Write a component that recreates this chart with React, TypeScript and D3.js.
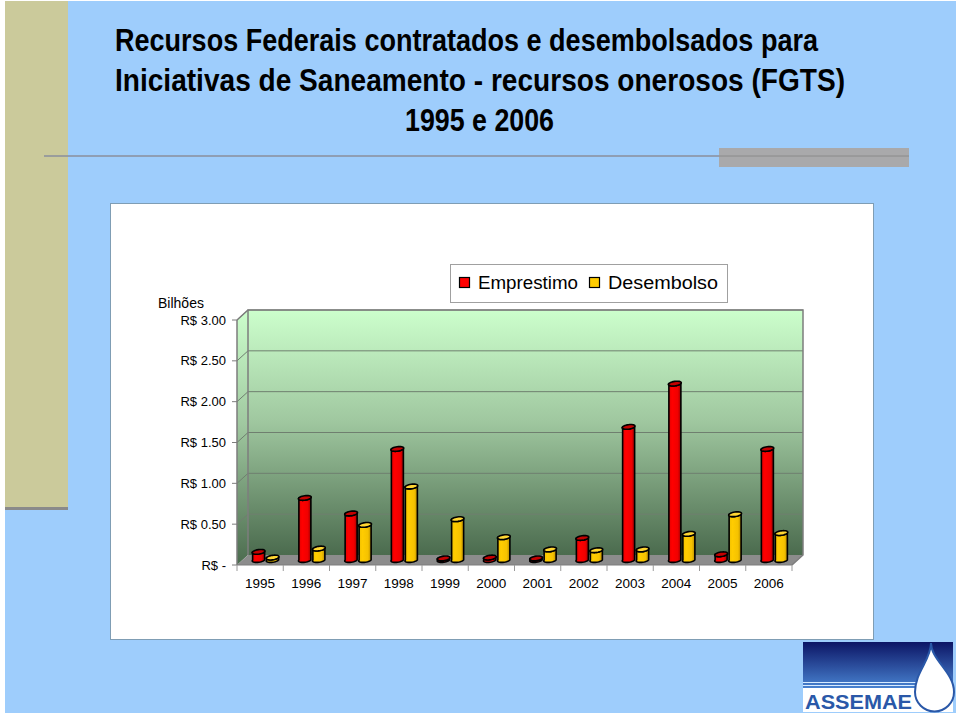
import React from "react";
import { scaleBand, scaleLinear, range } from "d3";

const years = ["1995", "1996", "1997", "1998", "1999", "2000", "2001", "2002", "2003", "2004", "2005", "2006"];
const emprestimo = [0.1, 0.76, 0.57, 1.36, 0.02, 0.03, 0.02, 0.27, 1.63, 2.16, 0.07, 1.36];
const desembolso = [0.03, 0.14, 0.43, 0.9, 0.5, 0.28, 0.13, 0.12, 0.13, 0.32, 0.56, 0.33];
const yTicks = [0, 0.5, 1, 1.5, 2, 2.5, 3];
const seriesNames = ["Emprestimo", "Desembolso"];
const titleLines = [
  "Recursos Federais contratados e desembolsados para",
  "Iniciativas de Saneamento - recursos onerosos (FGTS)",
  "1995 e 2006",
];

const W = 960;
const H = 716;
// front plane of the 3d plot + depth offset of the back wall
const x0 = 237;
const x1 = 792;
const yBot = 565;
const yTop = 320;
const dx = 11;
const dy = -10;

const fmt = (v: number) => (v === 0 ? "R$ -" : `R$ ${v.toFixed(2)}`);

function cylinder(cx: number, top: number, base: number, r: number) {
  const a = 2.2;
  const c = 2.4;
  const pt = (cy: number, t: number) =>
    [cx + r * Math.cos(t) + a * Math.sin(t), cy - c * Math.sin(t)] as [number, number];
  const n = 16;
  const body: [number, number][] = [pt(top, Math.PI)];
  range(n + 1).forEach((i) => body.push(pt(base, Math.PI + (Math.PI * i) / n)));
  range(n + 1).forEach((i) => body.push(pt(top, 2 * Math.PI - (Math.PI * i) / n)));
  const cap = range(2 * n).map((i) => pt(top, (Math.PI * i) / n));
  const toPath = (p: [number, number][]) =>
    "M" + p.map((d) => d[0].toFixed(2) + "," + d[1].toFixed(2)).join("L") + "Z";
  return { body: toPath(body), cap: toPath(cap) };
}

const App = () => {
  const x = scaleBand<string>().domain(years).range([x0, x1]);
  const y = scaleLinear().domain([0, 3]).range([yBot, yTop]);
  const bw = 12;
  const gap = 1;
  const mx = dx / 2;
  const my = dy / 2;

  const font = "'Liberation Sans', Arial, sans-serif";
  const narrow = "'Liberation Sans Narrow', 'Arial Narrow', 'Liberation Sans', Arial, sans-serif";

  const series = [
    { values: emprestimo, fill: "url(#gRed)", cap: "#c40000", off: -gap - bw / 2 },
    { values: desembolso, fill: "url(#gYel)", cap: "#ffd633", off: gap + bw / 2 },
  ];

  return (
    <svg width={W} height={H} style={{ position: "absolute", left: 0, top: 0 }}>
      <defs>
        <linearGradient id="gWall" x1="0" y1="0" x2="0" y2="1">
          <stop offset="0" stopColor="#ccffcc" />
          <stop offset="0.45" stopColor="#a0c8a0" />
          <stop offset="1" stopColor="#4b6b4e" />
        </linearGradient>
        <linearGradient id="gRed" x1="0" y1="0" x2="1" y2="0">
          <stop offset="0" stopColor="#e00000" />
          <stop offset="0.3" stopColor="#ff0000" />
          <stop offset="0.75" stopColor="#f00000" />
          <stop offset="1" stopColor="#a00000" />
        </linearGradient>
        <linearGradient id="gYel" x1="0" y1="0" x2="1" y2="0">
          <stop offset="0" stopColor="#f0c000" />
          <stop offset="0.3" stopColor="#ffcc00" />
          <stop offset="0.75" stopColor="#f5c200" />
          <stop offset="1" stopColor="#b88c00" />
        </linearGradient>
        <linearGradient id="gLogo" x1="0" y1="0" x2="0" y2="1">
          <stop offset="0" stopColor="#0c1565" />
          <stop offset="1" stopColor="#4a86d4" />
        </linearGradient>
      </defs>

      {/* slide background */}
      <rect x={0} y={0} width={W} height={H} fill="#ffffff" />
      <rect x={5} y={1} width={951} height={712} fill="#9ecdfc" />
      <rect x={5} y={1} width={63} height={506} fill="#cbca9b" />
      <rect x={5} y={507} width={63} height={3} fill="#8a8a8a" />
      <line x1={44} x2={909} y1={156} y2={156} stroke="#8a8e9c" strokeWidth={1.5} />
      <rect x={719} y={148} width={190} height={19} fill="#a9a9ab" />
      <line x1={719} x2={909} y1={156} y2={156} stroke="#8a8a8a" strokeWidth={1} />

      {/* title */}
      <g fontFamily={narrow} fontWeight="bold" fontSize={31} fill="#000">
        <text x={115} y={51} textLength={703} lengthAdjust="spacingAndGlyphs">{titleLines[0]}</text>
        <text x={115} y={91} textLength={730} lengthAdjust="spacingAndGlyphs">{titleLines[1]}</text>
        <text x={405} y={131} textLength={149} lengthAdjust="spacingAndGlyphs">{titleLines[2]}</text>
      </g>

      {/* chart box */}
      <rect x={110.5} y={203.5} width={763} height={436} fill="#ffffff" stroke="#7f9db4" />

      {/* walls and floor */}
      <rect x={x0 + dx} y={yTop + dy} width={x1 - x0} height={yBot - yTop} fill="url(#gWall)" />
      <path
        d={`M${x0},${yBot}L${x0},${yTop}L${x0 + dx},${yTop + dy}L${x0 + dx},${yBot + dy}Z`}
        fill="url(#gWall)"
      />
      <path
        d={`M${x0},${yBot}L${x1},${yBot}L${x1 + dx},${yBot + dy}L${x0 + dx},${yBot + dy}Z`}
        fill="#8c8c8c"
      />
      {yTicks.slice(1).map((t) => (
        <g key={t} stroke="#6f7f6f" strokeWidth={1}>
          <line x1={x0 + dx} x2={x1 + dx} y1={y(t) + dy} y2={y(t) + dy} />
          <line x1={x0} x2={x0 + dx} y1={y(t)} y2={y(t) + dy} />
        </g>
      ))}
      <path
        d={`M${x0 + dx},${yBot + dy}L${x0 + dx},${yTop + dy}L${x1 + dx},${yTop + dy}L${x1 + dx},${yBot + dy}L${x1},${yBot}`}
        fill="none"
        stroke="#7d7d7d"
        strokeWidth={1.5}
      />
      <path d={`M${x0 + dx},${yTop + dy}L${x0},${yTop}`} stroke="#7d7d7d" strokeWidth={1.5} />

      {/* bars */}
      {years.map((yr, i) =>
        series.map((s, k) => {
          const cx = (x(yr) as number) + x.bandwidth() / 2 + s.off + mx;
          const base = y(0) + my;
          const top = y(s.values[i]) + my;
          const c = cylinder(cx, top, base, bw / 2);
          return (
            <g key={yr + k} stroke="#000" strokeWidth={1.6} strokeLinejoin="round">
              <path d={c.body} fill={s.fill} />
              <path d={c.cap} fill={s.cap} />
            </g>
          );
        })
      )}

      {/* y axis */}
      <line x1={x0} x2={x0} y1={yTop} y2={yBot} stroke="#7d7d7d" strokeWidth={1.5} />
      {yTicks.map((t) => (
        <g key={t}>
          <line x1={x0 - 5} x2={x0} y1={y(t)} y2={y(t)} stroke="#7d7d7d" strokeWidth={1} />
          <text
            x={226}
            y={y(t)}
            dy="0.35em"
            textAnchor="end"
            fontFamily={font}
            fontSize={13}
            fill="#000"
          >
            {fmt(t)}
          </text>
        </g>
      ))}
      <text x={158} y={308} fontFamily={font} fontSize={14} fill="#000">
        Bilhões
      </text>

      {/* x axis */}
      <line x1={x0} x2={x1} y1={yBot} y2={yBot} stroke="#7d7d7d" strokeWidth={1} />
      {years.concat(["end"]).map((yr, i) => {
        const xx = i < years.length ? (x(yr) as number) : x1;
        return <line key={"t" + i} x1={xx} x2={xx} y1={yBot} y2={yBot + 6} stroke="#9a9a9a" />;
      })}
      {years.map((yr) => (
        <text
          key={yr}
          x={(x(yr) as number) + x.bandwidth() / 2}
          y={588}
          textAnchor="middle"
          fontFamily={font}
          fontSize={13.5}
          fill="#000"
        >
          {yr}
        </text>
      ))}

      {/* legend */}
      <rect x={450.5} y={264.5} width={277} height={38} fill="#ffffff" stroke="#a0a0a0" />
      <rect x={459.5} y={277.5} width={10} height={10} fill="#ff0000" stroke="#000" strokeWidth={1.2} />
      <text x={478} y={289} fontFamily={font} fontSize={18} fill="#000" textLength={100} lengthAdjust="spacingAndGlyphs">
        {seriesNames[0]}
      </text>
      <rect x={589.5} y={277.5} width={10} height={10} fill="#ffcc00" stroke="#000" strokeWidth={1.2} />
      <text x={608} y={289} fontFamily={font} fontSize={18} fill="#000" textLength={110} lengthAdjust="spacingAndGlyphs">
        {seriesNames[1]}
      </text>

      {/* logo */}
      <rect x={803} y={642} width={150} height={48} fill="url(#gLogo)" />
      <g stroke="#d8ecff" strokeWidth={1}>
        <line x1={803} x2={953} y1={682.5} y2={682.5} />
        <line x1={803} x2={953} y1={685.5} y2={685.5} />
      </g>
      <rect x={803} y={688} width={150} height={24} fill="#ffffff" />
      <text
        x={805}
        y={709}
        fontFamily={font}
        fontWeight="bold"
        fontSize={20}
        fill="#2a58a8"
        textLength={107}
        lengthAdjust="spacingAndGlyphs"
      >
        ASSEMAE
      </text>
      <path
        d="M931,643 C931,660 954,672 954,692 A19.5,19.5 0 1 1 915,692 C915,672 931,660 931,643 Z"
        fill="#ffffff"
        stroke="#2a58a8"
        strokeWidth={2}
      />
    </svg>
  );
};

export default App;
